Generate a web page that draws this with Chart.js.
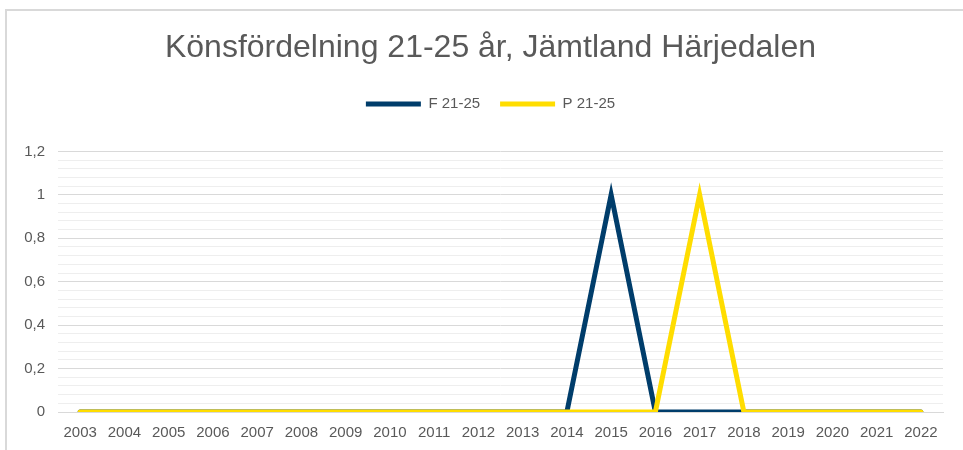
<!DOCTYPE html>
<html>
<head>
<meta charset="utf-8">
<script src="https://cdn.jsdelivr.net/npm/chart.js@4"></script>
<style>
  html, body { margin: 0; padding: 0; background: #fff; }
  #frame { position: absolute; left: 5px; top: 9px; width: 975px; height: 480px; border: 2px solid #d9d9d9; box-sizing: border-box; }
  #wrap { position: absolute; left: 0; top: 0; width: 963px; height: 450px; }
</style>
</head>
<body>
<div id="frame"></div>
<div id="wrap"><canvas id="myChart" width="963" height="450"></canvas></div>
<script>
var years = ['2003', '2004', '2005', '2006', '2007', '2008', '2009', '2010', '2011', '2012',
             '2013', '2014', '2015', '2016', '2017', '2018', '2019', '2020', '2021', '2022'];
var f2125 = [0, 0, 0, 0, 0, 0, 0, 0, 0, 0, 0, 0, 1, 0, 0, 0, 0, 0, 0, 0];
var p2125 = [0, 0, 0, 0, 0, 0, 0, 0, 0, 0, 0, 0, 0, 0, 1, 0, 0, 0, 0, 0];
var yMax = 1.2;
var majorStep = 0.2;
var minorStep = 0.04;

var grey = '#595959';
Chart.defaults.font.family = '"Liberation Sans", Arial, sans-serif';
Chart.defaults.color = grey;

function isMajor(v) {
    return Math.abs(v / majorStep - Math.round(v / majorStep)) < 1e-6;
}

// extra room between legend and plot
var legendGap = {
    id: 'legendGap',
    beforeInit: function (chart) {
        var fit = chart.legend.fit;
        chart.legend.fit = function () {
            fit.bind(chart.legend)();
            this.height += 30;
        };
    }
};

var ctx = document.getElementById('myChart').getContext('2d');
var myChart = new Chart(ctx, {
    type: 'line',
    data: {
        labels: years,
        datasets: [
            {
                label: 'F 21-25',
                data: f2125,
                borderColor: '#003d6b',
                backgroundColor: '#003d6b',
                borderWidth: 5,
                borderCapStyle: 'round',
                pointRadius: 0,
                tension: 0,
                order: 1
            },
            {
                label: 'P 21-25',
                data: p2125,
                borderColor: '#ffdd00',
                backgroundColor: '#ffdd00',
                borderWidth: 5,
                borderCapStyle: 'round',
                pointRadius: 0,
                tension: 0,
                order: 0
            }
        ]
    },
    options: {
        responsive: false,
        animation: false,
        layout: { padding: { left: 22, right: 4, top: 0, bottom: 0 } },
        scales: {
            x: {
                offset: true,
                grid: { display: false, drawTicks: false },
                border: { display: true, color: '#d9d9d9', width: 1 },
                ticks: { font: { size: 15 }, color: grey, maxRotation: 0, autoSkip: false, padding: 12 },
                afterFit: function (s) { s.height = 38; }
            },
            y: {
                min: 0,
                max: yMax,
                border: { display: false },
                grid: {
                    drawTicks: false,
                    color: function (c) { return isMajor(c.tick.value) ? '#d9d9d9' : '#eeeeee'; }
                },
                ticks: {
                    stepSize: minorStep,
                    autoSkip: false,
                    padding: 13,
                    font: { size: 15 },
                    color: grey,
                    callback: function (v) {
                        if (!isMajor(v)) return '';
                        return String(Math.round(v * 10) / 10).replace('.', ',');
                    }
                },
                afterFit: function (s) { s.width = 36; }
            },
            // empty spacer on the right so the plot ends where the original does
            yRight: {
                position: 'right',
                min: 0,
                max: yMax,
                border: { display: false },
                grid: { display: false },
                ticks: { display: false },
                afterFit: function (s) { s.width = 16; }
            }
        },
        plugins: {
            title: {
                display: true,
                text: 'Könsfördelning 21-25 år, Jämtland Härjedalen',
                font: { size: 32, weight: 'normal' },
                color: grey,
                padding: { top: 29, bottom: 9 }
            },
            legend: {
                position: 'top',
                labels: {
                    usePointStyle: true,
                    pointStyle: 'line',
                    pointStyleWidth: 55,
                    boxHeight: 15,
                    padding: 20,
                    font: { size: 15 },
                    color: grey,
                    sort: function (a, b) { return a.datasetIndex - b.datasetIndex; }
                }
            },
            tooltip: { enabled: false }
        }
    },
    plugins: [legendGap]
});
</script>
</body>
</html>
